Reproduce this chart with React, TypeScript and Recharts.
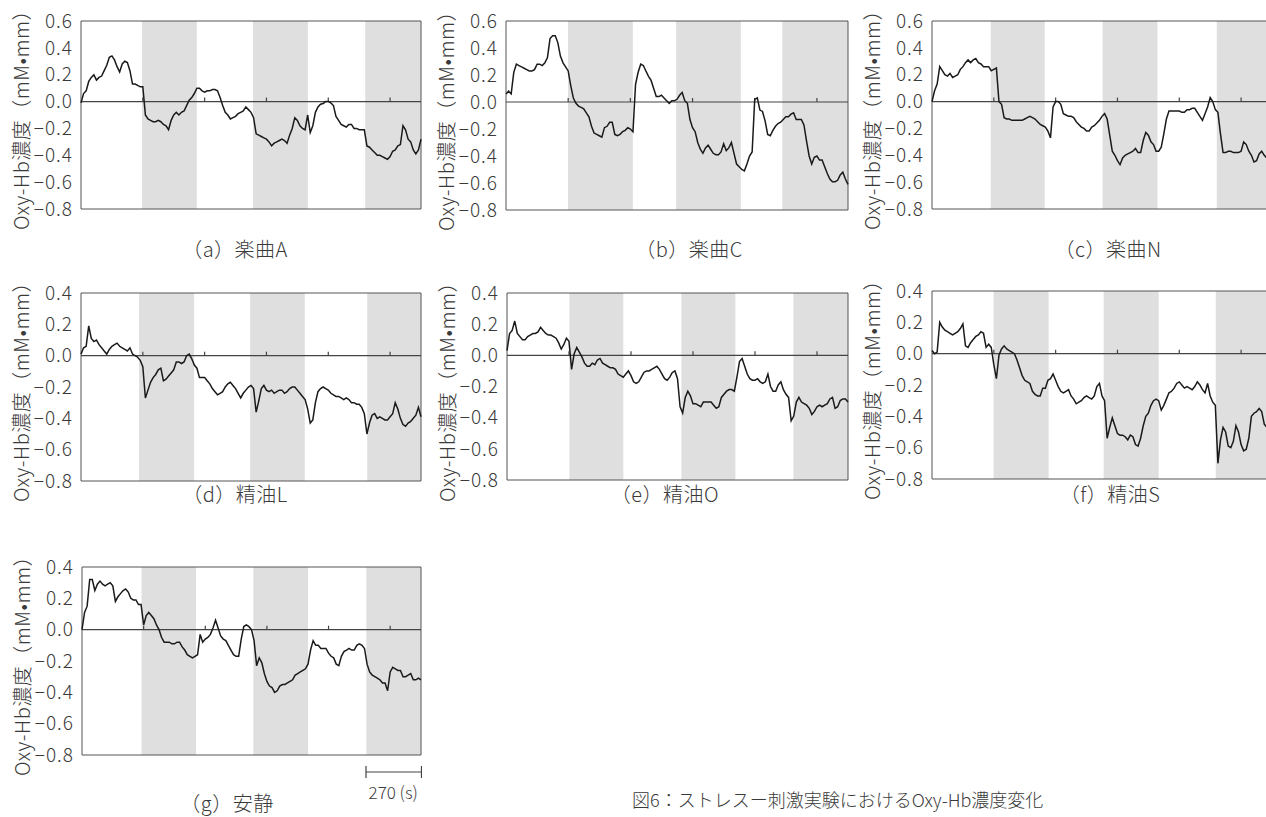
import { Line, LineChart, ReferenceArea, ReferenceLine, XAxis, YAxis } from 'recharts';

// time grid (s), one sample every 12.5 s
const TIME = [
  0, 12.5, 25, 37.5, 50, 62.5, 75, 87.5,
  100, 112.5, 125, 137.5, 150, 162.5, 175, 187.5,
  200, 212.5, 225, 237.5, 250, 262.5, 275, 287.5,
  300, 312.5, 325, 337.5, 350, 362.5, 375, 387.5,
  400, 412.5, 425, 437.5, 450, 462.5, 475, 487.5,
  500, 512.5, 525, 537.5, 550, 562.5, 575, 587.5,
  600, 612.5, 625, 637.5, 650, 662.5, 675, 687.5,
  700, 712.5, 725, 737.5, 750, 762.5, 775, 787.5,
  800, 812.5, 825, 837.5, 850, 862.5, 875, 887.5,
  900, 912.5, 925, 937.5, 950, 962.5, 975, 987.5,
  1000, 1012.5, 1025, 1037.5, 1050, 1062.5, 1075, 1087.5,
  1100, 1112.5, 1125, 1137.5, 1150, 1162.5, 1175, 1187.5,
  1200, 1212.5, 1225, 1237.5, 1250, 1262.5, 1275, 1287.5,
  1300, 1312.5, 1325, 1337.5, 1350, 1362.5, 1375, 1387.5,
  1400, 1412.5, 1425, 1437.5, 1450, 1462.5, 1475, 1487.5,
  1500, 1512.5, 1525, 1537.5, 1550, 1562.5, 1575, 1587.5,
  1600, 1612.5, 1625, 1637.5, 1650,
];

const MUSIC_A = [
  -0.01, 0.06, 0.08, 0.15, 0.18, 0.20, 0.16, 0.18, 0.19, 0.23,
  0.27, 0.33, 0.34, 0.31, 0.26, 0.22, 0.28, 0.30, 0.29, 0.23,
  0.13, 0.13, 0.12, 0.11, 0.11, -0.10, -0.13, -0.14, -0.15, -0.15,
  -0.14, -0.15, -0.17, -0.18, -0.21, -0.14, -0.10, -0.08, -0.10, -0.08,
  -0.07, -0.03, 0.01, 0.03, 0.06, 0.10, 0.10, 0.08, 0.07, 0.08,
  0.08, 0.09, 0.09, 0.08, 0.03, -0.03, -0.08, -0.10, -0.13, -0.12,
  -0.11, -0.09, -0.08, -0.07, -0.04, -0.06, -0.08, -0.12, -0.24, -0.25,
  -0.26, -0.27, -0.28, -0.30, -0.33, -0.31, -0.30, -0.29, -0.28, -0.29,
  -0.31, -0.25, -0.20, -0.12, -0.14, -0.18, -0.20, -0.21, -0.10, -0.23,
  -0.18, -0.08, -0.04, -0.02, -0.015, 0.0, 0.0, -0.01, -0.03, -0.11,
  -0.14, -0.17, -0.18, -0.19, -0.17, -0.17, -0.20, -0.20, -0.21, -0.21,
  -0.21, -0.33, -0.34, -0.36, -0.38, -0.40, -0.40, -0.41, -0.42, -0.43,
  -0.41, -0.37, -0.36, -0.33, -0.32, -0.18, -0.21, -0.28, -0.30, -0.36,
  -0.39, -0.36, -0.28,
];
const MUSIC_C = [
  0.06, 0.08, 0.06, 0.22, 0.28, 0.27, 0.26, 0.25, 0.24, 0.23,
  0.23, 0.24, 0.28, 0.28, 0.27, 0.29, 0.33, 0.47, 0.49, 0.49,
  0.44, 0.34, 0.29, 0.26, 0.23, 0.12, 0.03, -0.01, -0.03, -0.04,
  -0.05, -0.08, -0.11, -0.18, -0.23, -0.24, -0.25, -0.26, -0.19, -0.18,
  -0.15, -0.15, -0.24, -0.25, -0.24, -0.22, -0.21, -0.19, -0.20, -0.22,
  0.13, 0.22, 0.28, 0.27, 0.23, 0.19, 0.16, 0.10, 0.04, 0.04,
  0.05, 0.03, 0.01, -0.01, 0.01, 0.01, 0.02, 0.05, 0.07, 0.01,
  -0.01, -0.13, -0.19, -0.22, -0.30, -0.35, -0.38, -0.34, -0.32, -0.35,
  -0.38, -0.39, -0.39, -0.37, -0.31, -0.36, -0.34, -0.30, -0.38, -0.46,
  -0.48, -0.50, -0.51, -0.46, -0.40, -0.37, 0.02, 0.03, -0.06, -0.07,
  -0.14, -0.24, -0.25, -0.21, -0.18, -0.16, -0.15, -0.13, -0.11, -0.11,
  -0.09, -0.08, -0.13, -0.13, -0.13, -0.17, -0.29, -0.40, -0.46, -0.41,
  -0.40, -0.43, -0.43, -0.48, -0.53, -0.57, -0.59, -0.59, -0.58, -0.54,
  -0.52, -0.57, -0.61,
];
const MUSIC_N = [
  0.0, 0.08, 0.13, 0.26, 0.23, 0.20, 0.19, 0.21, 0.18, 0.19,
  0.20, 0.24, 0.26, 0.29, 0.31, 0.29, 0.31, 0.32, 0.29, 0.28,
  0.26, 0.26, 0.26, 0.23, 0.24, 0.25, 0.0, -0.02, -0.12, -0.13,
  -0.13, -0.14, -0.14, -0.14, -0.14, -0.14, -0.13, -0.12, -0.11, -0.12,
  -0.13, -0.15, -0.17, -0.18, -0.19, -0.22, -0.27, -0.04, 0.0, 0.0,
  -0.02, -0.09, -0.10, -0.11, -0.11, -0.12, -0.15, -0.17, -0.19, -0.20,
  -0.22, -0.22, -0.19, -0.18, -0.16, -0.14, -0.11, -0.09, -0.13, -0.25,
  -0.37, -0.40, -0.44, -0.47, -0.42, -0.40, -0.39, -0.38, -0.37, -0.35,
  -0.38, -0.38, -0.29, -0.23, -0.25, -0.30, -0.32, -0.37, -0.37, -0.34,
  -0.24, -0.13, -0.07, -0.07, -0.07, -0.07, -0.07, -0.08, -0.08, -0.06,
  -0.06, -0.05, -0.05, -0.08, -0.11, -0.14, -0.09, -0.04, 0.03, 0.0,
  -0.06, -0.08, -0.24, -0.38, -0.38, -0.37, -0.37, -0.38, -0.38, -0.38,
  -0.37, -0.30, -0.32, -0.37, -0.40, -0.45, -0.44, -0.39, -0.37, -0.40,
  -0.42, -0.41, -0.39,
];
const OIL_L = [
  0.01, 0.05, 0.06, 0.19, 0.11, 0.09, 0.10, 0.07, 0.05, 0.03,
  0.01, 0.04, 0.06, 0.07, 0.08, 0.06, 0.05, 0.04, 0.03, 0.05,
  0.01, 0.0, -0.01, -0.03, -0.07, -0.27, -0.22, -0.17, -0.14, -0.12,
  -0.09, -0.08, -0.16, -0.15, -0.13, -0.11, -0.09, -0.04, -0.04, -0.05,
  -0.04, 0.0, 0.01, -0.02, -0.06, -0.08, -0.14, -0.14, -0.14, -0.16,
  -0.18, -0.21, -0.23, -0.25, -0.24, -0.23, -0.20, -0.18, -0.17, -0.19,
  -0.21, -0.24, -0.27, -0.24, -0.22, -0.20, -0.19, -0.21, -0.36, -0.29,
  -0.21, -0.19, -0.22, -0.23, -0.22, -0.24, -0.23, -0.22, -0.22, -0.24,
  -0.23, -0.21, -0.20, -0.20, -0.22, -0.24, -0.26, -0.28, -0.34, -0.43,
  -0.41, -0.30, -0.23, -0.21, -0.20, -0.21, -0.22, -0.24, -0.25, -0.26,
  -0.26, -0.27, -0.28, -0.27, -0.28, -0.30, -0.30, -0.31, -0.31, -0.33,
  -0.37, -0.50, -0.43, -0.38, -0.37, -0.40, -0.39, -0.40, -0.41, -0.41,
  -0.39, -0.37, -0.30, -0.34, -0.40, -0.44, -0.45, -0.43, -0.42, -0.40,
  -0.38, -0.33, -0.39,
];
const OIL_O = [
  0.03, 0.14, 0.16, 0.22, 0.14, 0.12, 0.10, 0.10, 0.12, 0.13,
  0.14, 0.14, 0.15, 0.18, 0.16, 0.14, 0.13, 0.13, 0.12, 0.11,
  0.08, 0.04, 0.07, 0.11, 0.09, -0.09, 0.01, 0.05, 0.02, -0.01,
  -0.05, -0.07, -0.07, -0.05, -0.06, -0.03, -0.02, -0.05, -0.06, -0.07,
  -0.08, -0.08, -0.09, -0.12, -0.13, -0.14, -0.12, -0.10, -0.13, -0.17,
  -0.18, -0.17, -0.14, -0.11, -0.10, -0.10, -0.09, -0.08, -0.07, -0.09,
  -0.12, -0.15, -0.16, -0.14, -0.11, -0.10, -0.15, -0.33, -0.37, -0.27,
  -0.23, -0.26, -0.31, -0.31, -0.32, -0.33, -0.30, -0.30, -0.30, -0.30,
  -0.32, -0.34, -0.33, -0.27, -0.25, -0.23, -0.22, -0.22, -0.23, -0.14,
  -0.04, -0.02, -0.07, -0.12, -0.15, -0.16, -0.16, -0.15, -0.17, -0.18,
  -0.17, -0.12, -0.20, -0.23, -0.23, -0.19, -0.17, -0.22, -0.25, -0.27,
  -0.42, -0.39, -0.30, -0.27, -0.30, -0.31, -0.32, -0.34, -0.38, -0.36,
  -0.33, -0.32, -0.33, -0.32, -0.31, -0.28, -0.27, -0.34, -0.33, -0.29,
  -0.28, -0.28, -0.30,
];
const OIL_S = [
  0.02, 0.0, 0.01, 0.20, 0.17, 0.15, 0.14, 0.13, 0.12, 0.13,
  0.14, 0.16, 0.19, 0.05, 0.04, 0.07, 0.09, 0.11, 0.12, 0.14,
  0.13, 0.04, 0.06, 0.04, -0.07, -0.16, -0.01, 0.03, 0.05, 0.03,
  0.02, 0.01, 0.0, -0.04, -0.09, -0.14, -0.17, -0.18, -0.19, -0.24,
  -0.26, -0.27, -0.27, -0.22, -0.22, -0.17, -0.16, -0.13, -0.17, -0.21,
  -0.24, -0.25, -0.24, -0.23, -0.27, -0.29, -0.32, -0.31, -0.30, -0.28,
  -0.27, -0.28, -0.29, -0.27, -0.21, -0.19, -0.27, -0.30, -0.54, -0.47,
  -0.41, -0.46, -0.51, -0.52, -0.52, -0.53, -0.55, -0.52, -0.53, -0.58,
  -0.59, -0.54, -0.46, -0.40, -0.38, -0.33, -0.30, -0.29, -0.30, -0.36,
  -0.33, -0.29, -0.25, -0.24, -0.22, -0.19, -0.18, -0.20, -0.22, -0.21,
  -0.22, -0.23, -0.21, -0.18, -0.20, -0.23, -0.25, -0.19, -0.27, -0.31,
  -0.33, -0.70, -0.55, -0.47, -0.50, -0.59, -0.60, -0.56, -0.46, -0.50,
  -0.58, -0.62, -0.61, -0.54, -0.40, -0.38, -0.37, -0.35, -0.37, -0.45,
  -0.47, -0.44, -0.45,
];
const REST = [
  0.0, 0.11, 0.15, 0.32, 0.32, 0.25, 0.29, 0.31, 0.29, 0.28,
  0.29, 0.30, 0.28, 0.18, 0.21, 0.23, 0.25, 0.26, 0.24, 0.20,
  0.19, 0.19, 0.16, 0.16, 0.03, 0.09, 0.11, 0.09, 0.07, 0.03,
  0.0, -0.05, -0.08, -0.08, -0.08, -0.09, -0.09, -0.08, -0.08, -0.11,
  -0.13, -0.16, -0.17, -0.18, -0.17, -0.16, -0.03, -0.08, -0.06, -0.05,
  -0.03, 0.01, 0.06, 0.01, -0.04, -0.06, -0.07, -0.10, -0.13, -0.16,
  -0.17, -0.17, -0.06, 0.02, 0.03, 0.02, 0.0, -0.07, -0.23, -0.18,
  -0.21, -0.28, -0.33, -0.36, -0.37, -0.40, -0.39, -0.36, -0.35, -0.35,
  -0.34, -0.33, -0.32, -0.29, -0.28, -0.27, -0.26, -0.25, -0.22, -0.13,
  -0.07, -0.10, -0.10, -0.12, -0.12, -0.12, -0.15, -0.17, -0.18, -0.22,
  -0.23, -0.17, -0.14, -0.13, -0.12, -0.13, -0.13, -0.10, -0.09, -0.10,
  -0.12, -0.22, -0.27, -0.29, -0.30, -0.31, -0.32, -0.34, -0.34, -0.39,
  -0.27, -0.24, -0.25, -0.26, -0.26, -0.30, -0.30, -0.29, -0.28, -0.32,
  -0.32, -0.31, -0.32,
];

// stimulus periods (shaded), seconds
const BANDS_A = [[296, 562], [835, 1101], [1379, 1650]];
const BANDS_B = [[299, 612], [821, 1133], [1333, 1650]];
const BANDS_C = [[285, 547], [828, 1094], [1382, 1650]];
const BANDS_D = [[282, 549], [821, 1086], [1389, 1650]];
const BANDS_E = [[302, 563], [844, 1105], [1386, 1650]];
const BANDS_F = [[299, 566], [833, 1100], [1377, 1650]];
const BANDS_G = [[290, 555], [834, 1100], [1384, 1650]];

const X_MAX = 1650;
const X_TICKS = [300, 600, 900, 1200, 1500];
const Y_TICKS_TALL = [0.6, 0.4, 0.2, 0, -0.2, -0.4, -0.6, -0.8];
const Y_TICKS_SHORT = [0.4, 0.2, 0, -0.2, -0.4, -0.6, -0.8];
const SCALE_SECONDS = 270;

const Y_LABEL = 'Oxy-Hb濃度（mM•mm）';
const TITLE = '図6：ストレスー刺激実験におけるOxy-Hb濃度変化';

const FONT = '"Noto Sans CJK JP", "Noto Sans", sans-serif';
const TEXT = '#3a3a3a';

const rows = TIME.map((t, i) => ({
  t,
  a: MUSIC_A[i],
  b: MUSIC_C[i],
  c: MUSIC_N[i],
  d: OIL_L[i],
  e: OIL_O[i],
  f: OIL_S[i],
  g: REST[i],
}));

const PANELS = [
  { series: 'a', caption: '（a）楽曲A', bands: BANDS_A, yTicks: Y_TICKS_TALL,  left: 81,  top: 21,  w: 340, h: 188, cx: 235,  cy: 248 },
  { series: 'b', caption: '（b）楽曲C', bands: BANDS_B, yTicks: Y_TICKS_TALL,  left: 506, top: 21,  w: 342, h: 189, cx: 689,  cy: 248 },
  { series: 'c', caption: '（c）楽曲N', bands: BANDS_C, yTicks: Y_TICKS_TALL,  left: 932, top: 21,  w: 340, h: 188, cx: 1108, cy: 248 },
  { series: 'd', caption: '（d）精油L', bands: BANDS_D, yTicks: Y_TICKS_SHORT, left: 81,  top: 293, w: 340, h: 188, cx: 235,  cy: 493 },
  { series: 'e', caption: '（e）精油O', bands: BANDS_E, yTicks: Y_TICKS_SHORT, left: 507, top: 293, w: 341, h: 187, cx: 665,  cy: 493 },
  { series: 'f', caption: '（f）精油S', bands: BANDS_F, yTicks: Y_TICKS_SHORT, left: 932, top: 291, w: 340, h: 188, cx: 1110, cy: 493 },
  { series: 'g', caption: '（g）安静',  bands: BANDS_G, yTicks: Y_TICKS_SHORT, left: 82,  top: 567, w: 339, h: 188, cx: 227,  cy: 802 },
];

function fmt(v: number) {
  const s = Math.abs(v).toFixed(1);
  return v < -1e-9 ? `−${s}` : s;
}

type PanelProps = (typeof PANELS)[number];

const PAD_T = 14;
const PAD_B = 14;

function Panel({ series, bands, yTicks, left, top, w, h, caption, cx, cy }: PanelProps) {
  const yMax = yTicks[0];
  const yMin = yTicks[yTicks.length - 1];
  const tickLen = (4 * (yMax - yMin)) / h;

  return (
    <>
      <div style={{ position: 'absolute', left: left - 81, top: top - PAD_T }}>
        <LineChart
          width={81 + w + 10} height={h + PAD_T + PAD_B} data={rows}
          margin={{ top: PAD_T, right: 10, bottom: PAD_B, left: 0 }}
        >
          <XAxis type="number" dataKey="t" domain={[0, X_MAX]} hide />
          <YAxis
            type="number" domain={[yMin, yMax]} ticks={yTicks} interval={0}
            width={81} axisLine={false} tickLine={false} tickSize={6} tickMargin={2}
            tick={{ fill: TEXT, fontSize: 19, fontFamily: FONT, fontWeight: 300, letterSpacing: 1 }}
            tickFormatter={fmt}
          />
          {bands.map(([x1, x2]) => (
            <ReferenceArea key={x1} x1={x1} x2={x2} fill="#dfdfdf" fillOpacity={1} stroke="none" />
          ))}
          <ReferenceLine y={0} stroke="#444" strokeWidth={1.2} />
          {X_TICKS.map((x) => (
            <ReferenceLine key={x} segment={[{ x, y: 0 }, { x, y: tickLen }]} stroke="#444" strokeWidth={1.2} />
          ))}
          <Line
            type="linear" dataKey={series} stroke="#1a1a1a" strokeWidth={1.5}
            dot={false} activeDot={false} isAnimationActive={false}
          />
          <ReferenceArea x1={0} x2={X_MAX} y1={yMin} y2={yMax} fill="none" stroke="#555" strokeWidth={1} />
        </LineChart>
      </div>
      <div style={{
        position: 'absolute', left: left - 61, top: top + h / 2,
        transform: 'translate(-50%, -50%) rotate(-90deg)',
        whiteSpace: 'nowrap', fontSize: 20, fontWeight: 300, letterSpacing: 0.5, color: TEXT,
      }}>
        {Y_LABEL}
      </div>
      <div style={{
        position: 'absolute', left: cx, top: cy, transform: 'translate(-50%, -50%)',
        whiteSpace: 'nowrap', fontSize: 20, fontWeight: 300, letterSpacing: 0.5, color: TEXT,
      }}>
        {caption}
      </div>
    </>
  );
}

export default function App() {
  const g = PANELS[6];
  const barLen = (SCALE_SECONDS * g.w) / X_MAX;
  const barRight = g.left + g.w;

  return (
    <div style={{
      position: 'fixed', left: 0, top: 0, width: 1266, height: 817,
      overflow: 'hidden', background: '#fff', fontFamily: FONT,
    }}>
      {PANELS.map((p) => <Panel key={p.series} {...p} />)}

      <svg style={{ position: 'absolute', left: barRight - barLen - 1, top: 764 }} width={barLen + 2} height={16}>
        <line x1={1} y1={8} x2={barLen + 1} y2={8} stroke="#444" strokeWidth={1.2} />
        <line x1={1} y1={2} x2={1} y2={14} stroke="#444" strokeWidth={1.2} />
        <line x1={barLen + 1} y1={2} x2={barLen + 1} y2={14} stroke="#444" strokeWidth={1.2} />
      </svg>
      <div style={{
        position: 'absolute', left: barRight - barLen / 2, top: 791,
        transform: 'translate(-50%, -50%)', whiteSpace: 'nowrap', fontSize: 17, fontWeight: 300, color: TEXT,
      }}>
        {`${SCALE_SECONDS} (s)`}
      </div>

      <div style={{
        position: 'absolute', left: 632, top: 799, transform: 'translateY(-50%)',
        whiteSpace: 'nowrap', fontSize: 18, fontWeight: 300, color: TEXT,
      }}>
        {TITLE}
      </div>
    </div>
  );
}
